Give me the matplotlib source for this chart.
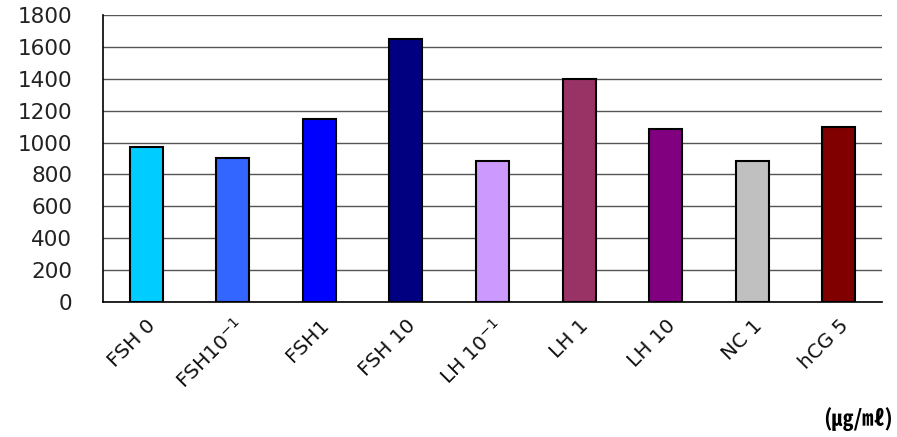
import matplotlib
matplotlib.use("Agg")
import matplotlib.pyplot as plt

categories = ["FSH 0", r"FSH10$^{-1}$", "FSH1", "FSH 10", r"LH 10$^{-1}$",
              "LH 1", "LH 10", "NC 1", "hCG 5"]
values = [975, 900, 1150, 1650, 885, 1400, 1087, 885, 1100]
colors = ["#00CCFF", "#3366FF", "#0000FF", "#000080", "#CC99FF",
          "#993366", "#800080", "#C0C0C0", "#800000"]
yticks = [0, 200, 400, 600, 800, 1000, 1200, 1400, 1600, 1800]
unit_label = "(㎍/㎖)"

plt.rcParams['font.family'] = ['DejaVu Sans']

fig = plt.figure(figsize=(8.97, 4.37), dpi=100)
ax = fig.add_axes([0.1148, 0.3089, 0.8685, 0.6568])

x = list(range(len(categories)))
ax.bar(x, values, width=0.38, color=colors, edgecolor="black", linewidth=1.5, zorder=3)

ax.set_xlim(-0.5, len(categories) - 0.5)
ax.set_ylim(0, 1800)
ax.set_yticks(yticks)
ax.set_yticklabels([str(v) for v in yticks], fontsize=15.5, color="#222222")
ax.yaxis.grid(True, color="#555555", linewidth=1.0, zorder=0)
ax.set_axisbelow(True)
ax.tick_params(axis='y', length=0, pad=22)
ax.tick_params(axis='x', length=0, pad=10)

ax.set_xticks(x)
ax.set_xticklabels(categories, rotation=45, ha='right', rotation_mode='anchor',
                   fontsize=14.5, color="#111111")

for side in ["top", "right"]:
    ax.spines[side].set_visible(False)
for side in ["left", "bottom"]:
    ax.spines[side].set_color("black")
    ax.spines[side].set_linewidth(1.2)

fig.text(0.9955, 0.041, unit_label, ha='right', va='center', fontsize=16,
         fontweight='bold', family=['Noto Sans CJK KR', 'DejaVu Sans'])

fig.savefig("out.png", dpi=100)
